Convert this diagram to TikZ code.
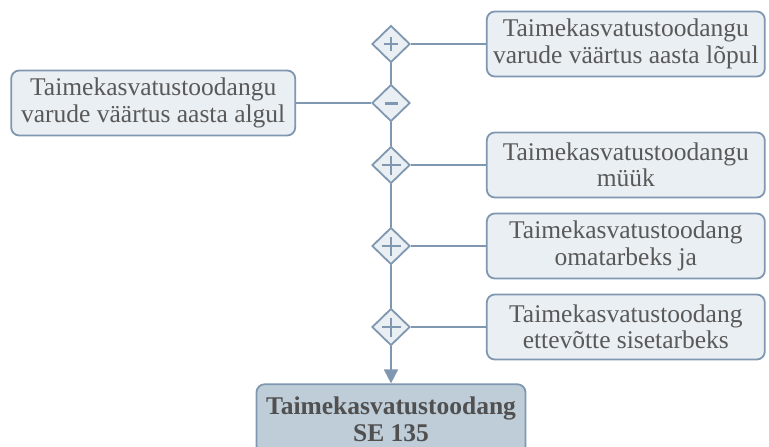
\documentclass[tikz,border=0pt]{standalone}
\usepackage{fontspec}
\setmainfont{Liberation Serif}
\usetikzlibrary{positioning,arrows.meta,shapes.geometric}
\definecolor{edgeBlue}{RGB}{127,151,176}
\definecolor{boxFill}{RGB}{234,239,243}
\definecolor{resFill}{RGB}{191,205,216}
\definecolor{txtGray}{RGB}{89,89,89}
\definecolor{resGray}{RGB}{80,80,80}

\begin{document}
\begin{tikzpicture}[x=1pt,y=-1pt,
  item/.style={draw=edgeBlue,fill=boxFill,line width=1.8pt,rounded corners=8pt,minimum width=278pt,minimum height=65pt,inner sep=3pt,align=center,text=txtGray,font=\fontsize{25.5}{26.5}\selectfont},
  result/.style={item,fill=resFill,minimum width=269pt,minimum height=70pt,text=resGray,font=\fontsize{25.5}{27}\selectfont\bfseries},
  opnode/.style={diamond,draw=edgeBlue,fill=boxFill,line width=1.8pt,minimum width=38pt,minimum height=37pt,inner sep=0pt},
  plusop/.style={opnode,path picture={\draw[edgeBlue,line width=2pt]
    ([xshift=-#1]path picture bounding box.center) -- ([xshift=#1]path picture bounding box.center)
    ([yshift=-#1]path picture bounding box.center) -- ([yshift=#1]path picture bounding box.center);}},
  plusop/.default=9.5pt,
  minusop/.style={opnode,path picture={\draw[edgeBlue,line width=3pt]
    ([xshift=-6.5pt]path picture bounding box.center) -- ([xshift=6.5pt]path picture bounding box.center);}},
  link/.style={draw=edgeBlue,line width=1.8pt}]
\useasboundingbox (0,0) rectangle (769,447);
% --- operators on the spine ---
\node[plusop=7pt] (opA) at (391,44) {};
\node[minusop] (opB) at (391,103) {};
\node[plusop] (opC) at (391,165) {};
\node[plusop] (opD) at (391,246) {};
\node[plusop] (opE) at (391,327) {};
% --- items ---
\node[item,right=75pt of opA] (endStock) {Taimekasvatustoodangu\\varude väärtus aasta lõpul};
\node[item,left=75pt of opB,minimum width=284pt] (startStock) {Taimekasvatustoodangu\\varude väärtus aasta algul};
\node[item,right=75pt of opC] (sales) {Taimekasvatustoodangu\\müük};
\node[item,right=75pt of opD] (ownUse) {Taimekasvatustoodang\\omatarbeks ja};
\node[item,right=75pt of opE] (innerUse) {Taimekasvatustoodang\\ettevõtte sisetarbeks};
\node[result,below=37pt of opE] (total) {Taimekasvatustoodang\\SE 135};
% --- connectors ---
\path[link] (opA) -- (endStock);
\path[link] (startStock) -- (opB);
\path[link] (opC) -- (sales);
\path[link] (opD) -- (ownUse);
\path[link] (opE) -- (innerUse);
\path[link] (opA) -- (opB);
\path[link] (opB) -- (opC);
\path[link] (opC) -- (opD);
\path[link] (opD) -- (opE);
\path[link,-{Triangle[width=14pt,length=14pt]}] (opE) -- (total);
\end{tikzpicture}
\end{document}
